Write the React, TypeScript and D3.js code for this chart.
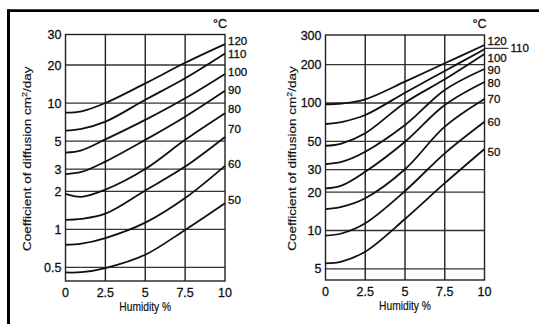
import * as d3 from 'd3'

// humidity positions where the curves were read (%)
const humidity = [0, 1, 2.5, 5, 7.5, 10]
const temps = [120, 110, 100, 90, 80, 70, 60, 50]

// left panel, coefficient of diffusion cm2/day
const leftSeries = [
  [8.4, 8.6, 10.0, 14.3, 20.6, 26.4],
  [6.05, 6.24, 7.12, 10.6, 15.7, 23.3],
  [4.05, 4.22, 5.15, 7.35, 10.9, 17.0],
  [2.74, 2.85, 3.44, 5.11, 7.8, 12.5],
  [1.91, 1.81, 2.06, 3.0, 5.11, 8.3],
  [1.19, 1.21, 1.33, 2.03, 3.14, 5.39],
  [0.755, 0.77, 0.853, 1.13, 1.77, 3.18],
  [0.456, 0.458, 0.494, 0.63, 0.99, 1.61],
]
// right panel
const rightSeries = [
  [97.7, 99.1, 106.9, 146.9, 203.6, 261.6],
  [68.4, 70.9, 80.5, 120.4, 178.2, 246.6],
  [46.2, 48.1, 57.9, 100.5, 153.4, 231.3],
  [33.2, 34.5, 41.5, 67.2, 126.5, 184.8],
  [21.4, 22.5, 28.9, 49.7, 96.4, 146.1],
  [14.7, 15.3, 17.9, 30.2, 65.2, 107.5],
  [9.1, 9.47, 11.4, 20.4, 40.3, 71.3],
  [5.53, 5.71, 6.82, 12.3, 23.5, 43.6],
]

// where the temperature labels sit (in axis units)
const leftLabelAt = [27.6, 23.3, 17.5, 12.7, 8.9, 6.2, 3.3, 1.71]
const rightLabelAt = [277.6, 250, 218, 181.5, 144, 106.9, 71.3, 41.5]

const leftTicks = [0.5, 1, 2, 3, 5, 10, 20, 30]
const rightTicks = [5, 10, 20, 30, 50, 100, 200, 300]
const xTicks = [0, 2.5, 5, 7.5, 10]

// the printed log axes are stretched above the second-to-last tick
const leftDomain = [0.39, 20, 30]
const rightDomain = [4.09, 200, 300]

const FONT = '"Liberation Sans", Arial, Helvetica, sans-serif'
const INK = '#111'
// scanned print looks a bit heavier than a plain regular weight
const txt = { fontFamily: FONT, fill: INK, stroke: INK, strokeWidth: 0.3 }

type PanelProps = {
  x0: number
  x1: number
  yRange: number[]
  domain: number[]
  ticks: number[]
  series: number[][]
  labelAt: number[]
  titleX: number
  leader?: number
}

function Panel({ x0, x1, yRange, domain, ticks, series, labelAt, titleX, leader }: PanelProps) {
  const x = d3.scaleLinear().domain([0, 10]).range([x0, x1])
  const y = d3.scaleLog().domain(domain).range(yRange)
  const top = yRange[2]
  const bottom = yRange[0]

  const line = d3
    .line<number>()
    .x((_, i) => x(humidity[i]))
    .y((v) => y(v))
    .curve(d3.curveCatmullRom.alpha(0.5))

  const midY = (top + bottom) / 2 + 1

  return (
    <g>
      {/* grid */}
      {ticks.slice(0, -1).map((t) => (
        <line key={'h' + t} x1={x0} x2={x1} y1={y(t)} y2={y(t)} stroke="#333" strokeWidth={1.3} />
      ))}
      {xTicks.slice(1, -1).map((t) => (
        <line key={'v' + t} x1={x(t)} x2={x(t)} y1={top} y2={bottom} stroke="#222" strokeWidth={1.4} />
      ))}
      <rect x={x0} y={top} width={x1 - x0} height={bottom - top} fill="none" stroke="#222" strokeWidth={1.4} />

      {/* curves */}
      {series.map((s, i) => (
        <path key={temps[i]} d={line(s) ?? ''} fill="none" stroke={INK} strokeWidth={1.8} />
      ))}

      {/* y tick labels */}
      {ticks.map((t) => (
        <text key={'yl' + t} x={x0 - 4} y={y(t)} dy="0.36em" textAnchor="end" fontSize={12.5} {...txt}>
          {String(t)}
        </text>
      ))}
      {/* x tick labels */}
      {xTicks.map((t) => (
        <text key={'xl' + t} x={x(t)} y={bottom + 16} textAnchor="middle" fontSize={12.5} {...txt}>
          {String(t)}
        </text>
      ))}

      {/* temperature labels */}
      <text x={x1 - 12} y={top - 7} textAnchor="start" fontSize={12.5} {...txt}>
        °C
      </text>
      {temps.map((t, i) => {
        const isLeader = leader === t
        const lx = isLeader ? x1 + 26 : x1 + 3
        return (
          <g key={'tl' + t}>
            {isLeader && <line x1={x1} x2={x1 + 24} y1={y(labelAt[i])} y2={y(labelAt[i])} stroke={INK} strokeWidth={1} />}
            <text x={lx} y={y(labelAt[i])} dy="0.35em" fontSize={11.5} {...txt}>
              {String(t)}
            </text>
          </g>
        )
      })}

      {/* axis titles */}
      <text
        transform={`translate(${(x0 + x1) / 2},${bottom + 29.5}) scale(0.82,1)`}
        textAnchor="middle"
        fontSize={12.5}
        {...txt}
        strokeWidth={0.2}
      >
        Humidity %
      </text>
      <text
        transform={`translate(${titleX},${midY}) scale(0.8,1) rotate(-90)`}
        textAnchor="middle"
        dy="0.36em"
        fontSize={13.5}
        {...txt}
        strokeWidth={0.2}
      >
        Coefficient of diffusion cm
        <tspan dy="-5" fontSize={9}>
          2
        </tspan>
        <tspan dy="5">/day</tspan>
      </text>
    </g>
  )
}

export default function App() {
  return (
    <svg width={539} height={324} style={{ position: 'absolute', left: 0, top: 0, background: '#fff' }}>
      <rect x={0} y={0} width={539} height={324} fill="#fff" />
      {/* frame */}
      <line x1={8.5} x2={8.5} y1={9.5} y2={324} stroke="#000" strokeWidth={3} />
      <line x1={7} x2={539} y1={10.7} y2={10.7} stroke="#000" strokeWidth={2.8} />
      <Panel
        x0={65.5}
        x1={225}
        yRange={[281, 65, 34.5]}
        domain={leftDomain}
        ticks={leftTicks}
        series={leftSeries}
        labelAt={leftLabelAt}
        titleX={27}
      />
      <Panel
        x0={325.5}
        x1={484.5}
        yRange={[280, 64.6, 35]}
        domain={rightDomain}
        ticks={rightTicks}
        series={rightSeries}
        labelAt={rightLabelAt}
        titleX={292.5}
        leader={110}
      />
    </svg>
  )
}
